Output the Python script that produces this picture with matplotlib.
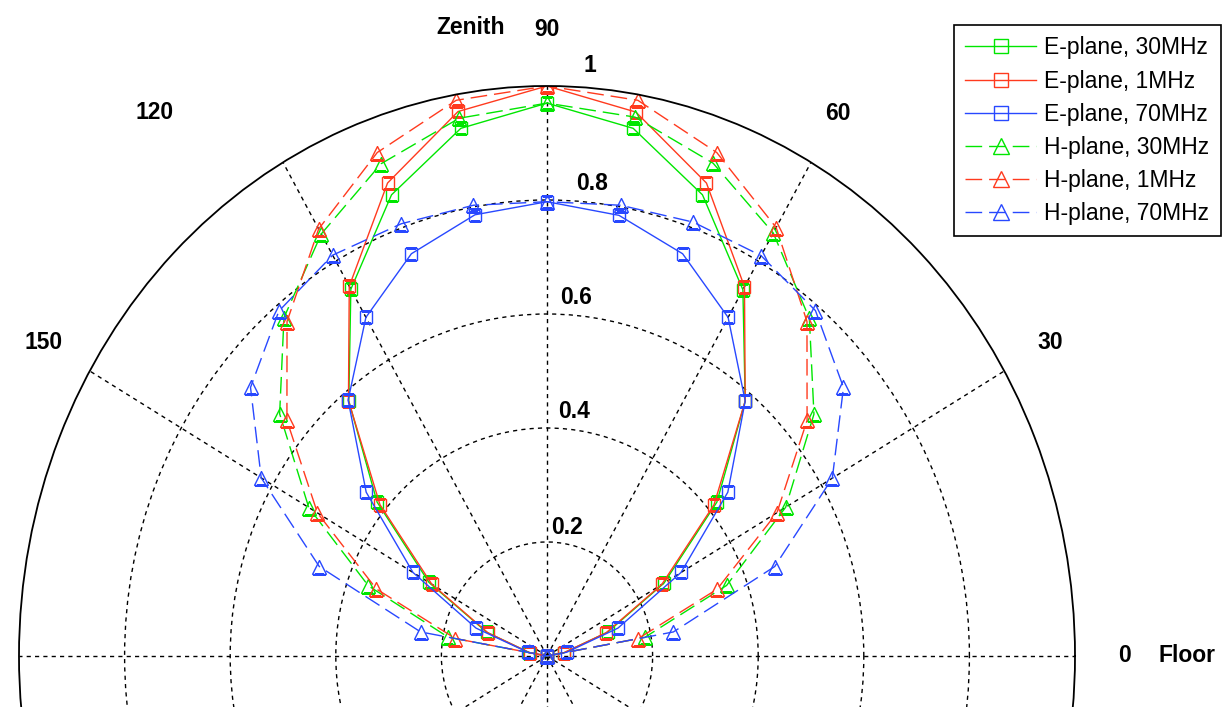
import numpy as np
import matplotlib
matplotlib.use("Agg")
import matplotlib.pyplot as plt

plt.rcParams['font.family'] = ['Liberation Sans', 'DejaVu Sans']

# ---- data (angle in degrees, normalized radiation pattern) ----
angles_deg = [0, 10, 20, 30, 40, 50, 60, 70, 80, 90,
              100, 110, 120, 130, 140, 150, 160, 170, 180]

e_30mhz = [0.0, 0.033, 0.122, 0.256, 0.420, 0.584, 0.742, 0.861, 0.940, 0.970,
           0.940, 0.861, 0.743, 0.584, 0.420, 0.258, 0.121, 0.034, 0.0]
e_1mhz = [0.0, 0.032, 0.119, 0.251, 0.413, 0.584, 0.748, 0.883, 0.969, 1.000,
          0.970, 0.883, 0.749, 0.585, 0.413, 0.252, 0.119, 0.033, 0.0]
e_70mhz = [0.0, 0.038, 0.143, 0.293, 0.447, 0.584, 0.686, 0.751, 0.785, 0.797,
           0.786, 0.751, 0.686, 0.586, 0.447, 0.293, 0.143, 0.036, 0.0]
h_30mhz = [0.0, 0.188, 0.362, 0.522, 0.660, 0.773, 0.857, 0.920, 0.960, 0.970,
           0.958, 0.919, 0.855, 0.775, 0.661, 0.521, 0.360, 0.190, 0.0]
h_1mhz = [0.0, 0.175, 0.343, 0.503, 0.643, 0.766, 0.868, 0.940, 0.990, 1.000,
          0.990, 0.940, 0.865, 0.766, 0.643, 0.502, 0.344, 0.176, 0.0]
h_70mhz = [0.0, 0.243, 0.459, 0.624, 0.733, 0.791, 0.811, 0.810, 0.803, 0.797,
           0.803, 0.807, 0.812, 0.790, 0.733, 0.625, 0.459, 0.243, 0.0]

series_labels = ['E-plane, 30MHz', 'E-plane, 1MHz', 'E-plane, 70MHz',
                 'H-plane, 30MHz', 'H-plane, 1MHz', 'H-plane, 70MHz']

r_ticks = [0.2, 0.4, 0.6, 0.8, 1.0]
r_tick_labels = ['0.2', '0.4', '0.6', '0.8', '1']
theta_grid_deg = list(range(0, 360, 30))

# ---- figure ----
W, H = 1230, 707
fig = plt.figure(figsize=(W / 100, H / 100), dpi=100)

cx, cy = 547, 656          # center in pixels (from top)
rx, ry = 528, 570          # radii in pixels
ax = fig.add_axes([(cx - rx) / W, (H - cy - ry) / H, 2 * rx / W, 2 * ry / H],
                  projection='polar')
ax.set_aspect('auto')
ax.set_rlim(0, 1)
ax.set_rticks(r_ticks[:-1])
ax.set_yticklabels([])
ax.set_thetagrids(theta_grid_deg, labels=[''] * len(theta_grid_deg))
ax.grid(True, color='black', linestyle=(0, (3, 3)), linewidth=1.0)
ax.spines['polar'].set_linewidth(1.3)
ax.spines['polar'].set_color('black')
ax.tick_params(length=0)

green = '#00e600'
red = '#ff3a1e'
blue = '#2848ff'

th = np.deg2rad(angles_deg)
styles = [
    (e_30mhz, green, '-', 's'),
    (e_1mhz, red, '-', 's'),
    (e_70mhz, blue, '-', 's'),
    (h_30mhz, green, (0, (12, 5)), '^'),
    (h_1mhz, red, (0, (12, 5)), '^'),
    (h_70mhz, blue, (0, (12, 5)), '^'),
]
for (vals, col, ls, mk), lab in zip(styles, series_labels):
    ax.plot(th, vals, color=col, linestyle=ls, linewidth=1.0, marker=mk,
            markersize=9 if mk == 's' else 10, markerfacecolor='none',
            markeredgecolor=col, markeredgewidth=1.0, label=lab)

# ---- labels ----
lab_kw = dict(fontsize=16.5, fontweight='bold', ha='center', va='center')
ax.text(np.deg2rad(90), 1.1, '90', **lab_kw)
ax.text(np.deg2rad(60), 1.1, '60', **lab_kw)
ax.text(np.deg2rad(30), 1.1, '30', **lab_kw)
ax.text(np.deg2rad(150), 1.1, '150', **lab_kw)
ax.text(np.deg2rad(127.9), 1.209, '120', **lab_kw)
ax.text(0, 1.093, '0', **lab_kw)
ax.text(0, 1.212, 'Floor', **lab_kw)
ax.text(np.deg2rad(97.5), 1.112, 'Zenith', **lab_kw)

r_off = [(20, 15), (27, 16), (29, 16), (45, 17), (43, 20)]
for r, t, (dx, dy) in zip(r_ticks, r_tick_labels, r_off):
    ax.annotate(t, xy=(np.pi / 2, r), xytext=(dx, dy), textcoords='offset pixels',
                **lab_kw)

leg = ax.legend(loc='upper right', bbox_to_anchor=(1221 / W, 1 - 25 / H),
                bbox_transform=fig.transFigure, borderaxespad=0,
                fontsize=16.5, numpoints=1, handlelength=3.1, handletextpad=0.35,
                labelspacing=0.44, borderpad=0.5, fancybox=False, framealpha=1,
                markerscale=1.15)
leg.get_frame().set_edgecolor('black')
leg.get_frame().set_linewidth(1.2)

fig.savefig('out.png', dpi=100)
